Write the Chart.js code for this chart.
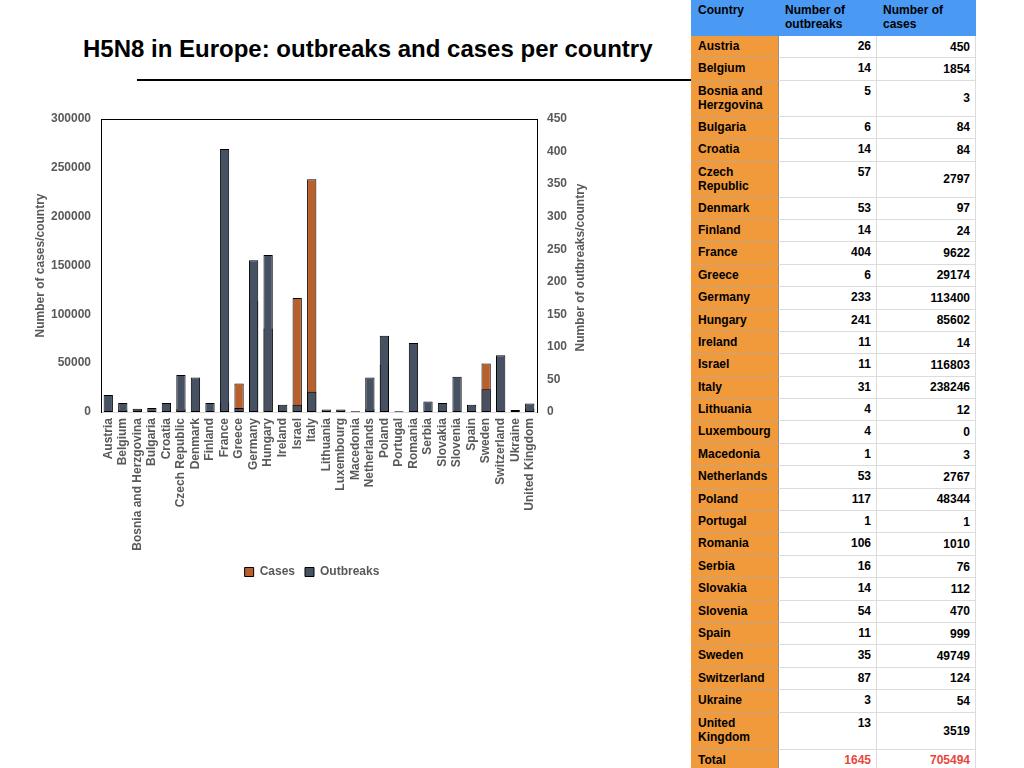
<!DOCTYPE html>
<html>
<head>
<meta charset="utf-8">
<script src="https://cdn.jsdelivr.net/npm/chart.js@4.4.0/dist/chart.umd.min.js"></script>
<style>
  html, body { margin: 0; padding: 0; background: #fff; }
  body { width: 1024px; height: 768px; position: relative; overflow: hidden; font-family: "Liberation Sans", Arial, sans-serif; }
  #title { position: absolute; left: 83px; top: 35px; font-size: 24px; line-height: 28px; font-weight: bold; color: #000; white-space: nowrap; }
  #rule { position: absolute; left: 137px; top: 79px; width: 554px; height: 2px; background: #000; }
  #wrap { position: absolute; left: 0; top: 100px; width: 624px; height: 488px; }
  #tbl { position: absolute; left: 691px; top: 0; border-collapse: collapse; table-layout: fixed; font-size: 12px; font-weight: bold; color: #000; }
  #tbl td, #tbl th { padding: 3px 5px 0 6px; vertical-align: top; line-height: 14px; border: 1px solid #dcdcdc; overflow: hidden; }
  #tbl th { background: #4a9af4; text-align: left; font-weight: bold; border-color: #4a9af4; padding-top: 2px; }
  #tbl td.c { background: #f09a3b; border-right: 1px solid #9a8f86; border-top-color: #c9a57e; border-bottom-color: #c9a57e; border-left-color: #f09a3b; }
  #tbl td.n { text-align: right; }
  #tbl td.m { text-align: right; vertical-align: middle; padding-top: 0; }
  #tbl tr.tot td.n, #tbl tr.tot td.m { color: #e8463b; }
</style>
</head>
<body>
<div id="title">H5N8 in Europe: outbreaks and cases per country</div>
<div id="rule"></div>
<div id="wrap"><canvas id="c"></canvas></div>
<table id="tbl"><colgroup><col style="width:87px"><col style="width:98px"><col style="width:99px"></colgroup><tbody id="tb"></tbody></table>
<script>
const countries = ["Austria","Belgium","Bosnia and Herzgovina","Bulgaria","Croatia","Czech Republic","Denmark","Finland","France","Greece","Germany","Hungary","Ireland","Israel","Italy","Lithuania","Luxembourg","Macedonia","Netherlands","Poland","Portugal","Romania","Serbia","Slovakia","Slovenia","Spain","Sweden","Switzerland","Ukraine","United Kingdom"];
const tableCountries = ["Austria","Belgium","Bosnia and<br>Herzgovina","Bulgaria","Croatia","Czech<br>Republic","Denmark","Finland","France","Greece","Germany","Hungary","Ireland","Israel","Italy","Lithuania","Luxembourg","Macedonia","Netherlands","Poland","Portugal","Romania","Serbia","Slovakia","Slovenia","Spain","Sweden","Switzerland","Ukraine","United<br>Kingdom"];
const outbreaks = [26,14,5,6,14,57,53,14,404,6,233,241,11,11,31,4,4,1,53,117,1,106,16,14,54,11,35,87,3,13];
const cases = [450,1854,3,84,84,2797,97,24,9622,29174,113400,85602,14,116803,238246,12,0,3,2767,48344,1,1010,76,112,470,999,49749,124,54,3519];
const totalOutbreaks = 1645;
const totalCases = 705494;
const casesAxisMax = 300000, casesAxisStep = 50000;
const outbreaksAxisMax = 450, outbreaksAxisStep = 50;

// table
const tb = document.getElementById('tb');
let html = '<tr style="height:35px"><th>Country</th><th>Number of<br>outbreaks</th><th>Number of<br>cases</th></tr>';
tableCountries.forEach((c, i) => {
  const two = c.indexOf('<br>') >= 0;
  const h = two ? (i === tableCountries.length - 1 ? 37 : 36) : 22.4;
  html += `<tr style="height:${h}px"><td class="c">${c}</td><td class="n">${outbreaks[i]}</td><td class="m">${cases[i]}</td></tr>`;
});
html += `<tr class="tot" style="height:22px"><td class="c">Total</td><td class="n">${totalOutbreaks}</td><td class="m">${totalCases}</td></tr>`;
tb.innerHTML = html;

const grey = '#595959';
const tickFont = { family: 'Liberation Sans', size: 12, weight: 'bold' };

const framePlugin = {
  id: 'frame',
  afterDraw(chart) {
    const { ctx, chartArea: a, scales } = chart;
    ctx.save();
    ctx.strokeStyle = '#000';
    ctx.lineWidth = 1;
    ctx.beginPath();
    ctx.moveTo(a.left, a.top + 0.5);
    ctx.lineTo(a.right, a.top + 0.5);
    ctx.stroke();
    // right axis title, reading bottom-to-top
    const r = scales.y2;
    ctx.fillStyle = grey;
    ctx.font = 'bold 12px "Liberation Sans"';
    ctx.textAlign = 'center';
    ctx.textBaseline = 'middle';
    ctx.translate(r.left + 44, (a.top + a.bottom) / 2 + 2);
    ctx.rotate(-Math.PI / 2);
    ctx.fillText('Number of outbreaks/country', 0, 0);
    ctx.restore();
  }
};

new Chart(document.getElementById('c'), {
  type: 'bar',
  data: {
    labels: countries,
    datasets: [
      { label: 'Cases', data: cases, yAxisID: 'y', backgroundColor: '#b95f2c', borderColor: '#000', borderWidth: 1, borderSkipped: false, order: 1, grouped: false },
      { label: 'Outbreaks', data: outbreaks, yAxisID: 'y2', backgroundColor: '#465264', borderColor: '#000', borderWidth: 1, borderSkipped: false, order: 0, grouped: false }
    ]
  },
  options: {
    responsive: true,
    maintainAspectRatio: false,
    animation: false,
    datasets: { bar: { barPercentage: 0.64, categoryPercentage: 1 } },
    layout: { padding: { top: 19, left: 0, right: 0, bottom: 0 } },
    plugins: {
      legend: {
        position: 'bottom',
        labels: {
          boxWidth: 9, boxHeight: 9, color: grey, font: tickFont, padding: 10,
          sort: (a, b) => a.datasetIndex - b.datasetIndex
        }
      },
      tooltip: { enabled: false }
    },
    scales: {
      x: {
        grid: { display: false, drawTicks: false },
        border: { display: true, color: '#d9d9d9', width: 1 },
        ticks: { color: grey, font: tickFont, autoSkip: false, maxRotation: 90, minRotation: 90, padding: 6 },
        afterFit(s) { s.height = 144; }
      },
      y: {
        position: 'left', min: 0, max: casesAxisMax,
        grid: { display: false, drawTicks: false },
        border: { display: true, color: '#000', width: 1 },
        ticks: { stepSize: casesAxisStep, color: grey, font: tickFont, padding: 10, callback: v => String(v) },
        title: { display: true, text: 'Number of cases/country', color: grey, font: { family: 'Liberation Sans', size: 12, weight: 'bold' }, padding: { top: 33, bottom: 4 } },
        afterFit(s) { s.width = 101; }
      },
      y2: {
        position: 'right', min: 0, max: outbreaksAxisMax,
        grid: { display: false, drawTicks: false },
        border: { display: true, color: '#000', width: 1 },
        ticks: { stepSize: outbreaksAxisStep, color: grey, font: tickFont, padding: 10, callback: v => String(v) },
        afterFit(s) { s.width = 87; }
      }
    }
  },
  plugins: [framePlugin]
});
</script>
</body>
</html>
